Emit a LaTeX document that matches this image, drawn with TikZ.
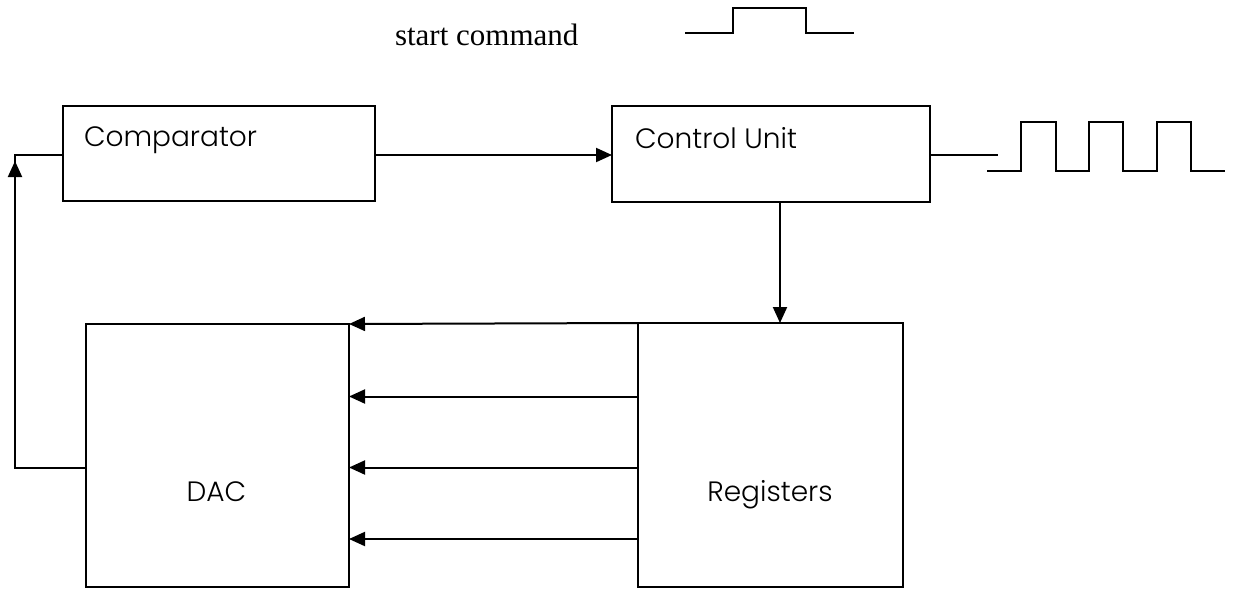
\documentclass[tikz,border=0pt]{standalone}
\usepackage{fontspec}
\setmainfont{Liberation Serif}
\newfontfamily\gothic{Poppins Light}
\usetikzlibrary{arrows.meta}
\begin{document}
\begin{tikzpicture}[x=1pt,y=-1pt,
  line width=2pt,
  box/.style={draw, line width=2pt, minimum width=#1, inner sep=0pt, outer sep=0pt},
  lbl/.style={font=\gothic\fontsize{28}{30}\selectfont, inner sep=0pt, anchor=base west},
  arr/.style={-{Triangle[length=16pt,width=14pt]}},
  wave/.style={line width=2pt, line join=miter}]
\useasboundingbox (0,0) rectangle (1234,589);
% boxes
\node[box=312pt, minimum height=95pt] (comp) at (219,153) {};
\node[box=318pt, minimum height=96pt] (cu) at (771,154) {};
\node[box=263pt, minimum height=263pt] (dac) at (217.5,455.5) {};
\node[box=265pt, minimum height=264pt] (reg) at (770.5,455) {};
% labels
\node[lbl] (compL) at (83,146) {Comparator};
\node[lbl] (cuL) at (634,148) {Control Unit};
\node[lbl, anchor=base] (dacL) at (216.5,501) {DAC};
\node[lbl, anchor=base] (regL) at (770,501) {Registers};
\node[font=\fontsize{31}{33}\selectfont, inner sep=0pt, anchor=base west] (start) at (394,45.5) {start command};
% start pulse
\draw[wave] (685,33) -- (733,33) -- (733,8) -- (806,8) -- (806,33) -- (854,33);
% connectors
\draw[arr] ([yshift=-2pt]comp.east) -- ([yshift=-2pt]comp.east -| cu.west);
\draw[arr] ([xshift=9pt]cu.south) -- ([xshift=9pt]cu.south |- reg.north);
\draw[arr] (reg.north west) -- (dac.north east);
\foreach \yy in {396.5,467.5,539} {
  \draw[arr] (reg.west |- 0,\yy) -- (dac.east |- 0,\yy);
}
\coordinate (fb) at (15,155);
\draw[arr] ([yshift=-12.5pt]dac.west) -| ([yshift=-6pt]fb);
\draw ([yshift=-8pt]fb) -- (fb) -- (comp.west |- fb);
% output
\coordinate (out) at (998,155);
\draw (cu.east |- out) -- (out);
\draw[wave] (987,171) -- (1021,171) -- (1021,122) -- (1056,122) -- (1056,171) -- (1089,171) -- (1089,122) -- (1123,122) -- (1123,171) -- (1157,171) -- (1157,122) -- (1191,122) -- (1191,171) -- (1225,171);
\end{tikzpicture}
\end{document}
